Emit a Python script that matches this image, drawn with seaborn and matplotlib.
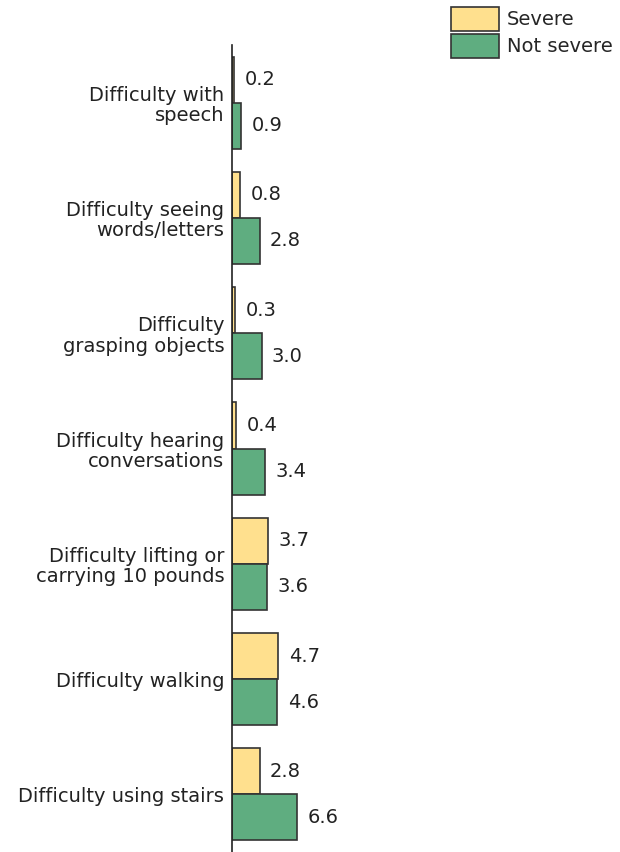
import pandas as pd
import seaborn as sns
import matplotlib.pyplot as plt

categories = [
    "Difficulty with\nspeech",
    "Difficulty seeing\nwords/letters",
    "Difficulty\ngrasping objects",
    "Difficulty hearing\nconversations",
    "Difficulty lifting or\ncarrying 10 pounds",
    "Difficulty walking",
    "Difficulty using stairs",
]
severe = [0.2, 0.8, 0.3, 0.4, 3.7, 4.7, 2.8]
not_severe = [0.9, 2.8, 3.0, 3.4, 3.6, 4.6, 6.6]
series = ["Severe", "Not severe"]
colors = ["#FFE08E", "#5FAD80"]

df = pd.DataFrame({
    "category": categories * 2,
    "value": severe + not_severe,
    "type": [series[0]] * len(categories) + [series[1]] * len(categories),
})

sns.set_style("white")
plt.rcParams["font.family"] = ["DejaVu Sans"]

fig = plt.figure(figsize=(6.2, 8.52), dpi=100)
ax = fig.add_axes([232 / 620, 0.0, 1 - 232 / 620, 1 - 45 / 852])

sns.barplot(data=df, y="category", x="value", hue="type", orient="h",
            palette=colors, hue_order=series, order=categories,
            edgecolor="#333333", linewidth=1.2, width=0.8, ax=ax,
            saturation=1, legend=True)

for cont in ax.containers:
    ax.bar_label(cont, fmt="%.1f", padding=7.5, fontsize=14, color="#222222")

ax.set_xlim(0, 388 / 9.85)
ax.set_ylim(6.5, -0.5)
ax.set_xlabel("")
ax.set_ylabel("")
ax.set_xticks([])
ax.tick_params(axis="y", length=0, pad=5.5, labelsize=14, labelcolor="#222222")
for lbl in ax.get_yticklabels():
    lbl.set_linespacing(1.1)
for side in ["top", "right", "bottom"]:
    ax.spines[side].set_visible(False)
ax.spines["left"].set_color("#222222")
ax.spines["left"].set_linewidth(1.2)

handles, labels = ax.get_legend_handles_labels()
ax.legend(handles, labels, loc="upper left", bbox_to_anchor=(451 / 620, 1 - 7 / 852),
          bbox_transform=fig.transFigure, frameon=False, fontsize=14,
          handlelength=2.47, handleheight=1.5, handletextpad=0.4,
          labelspacing=0.18, borderaxespad=0, borderpad=0)

fig.savefig("out.png", dpi=100)
plt.close()
